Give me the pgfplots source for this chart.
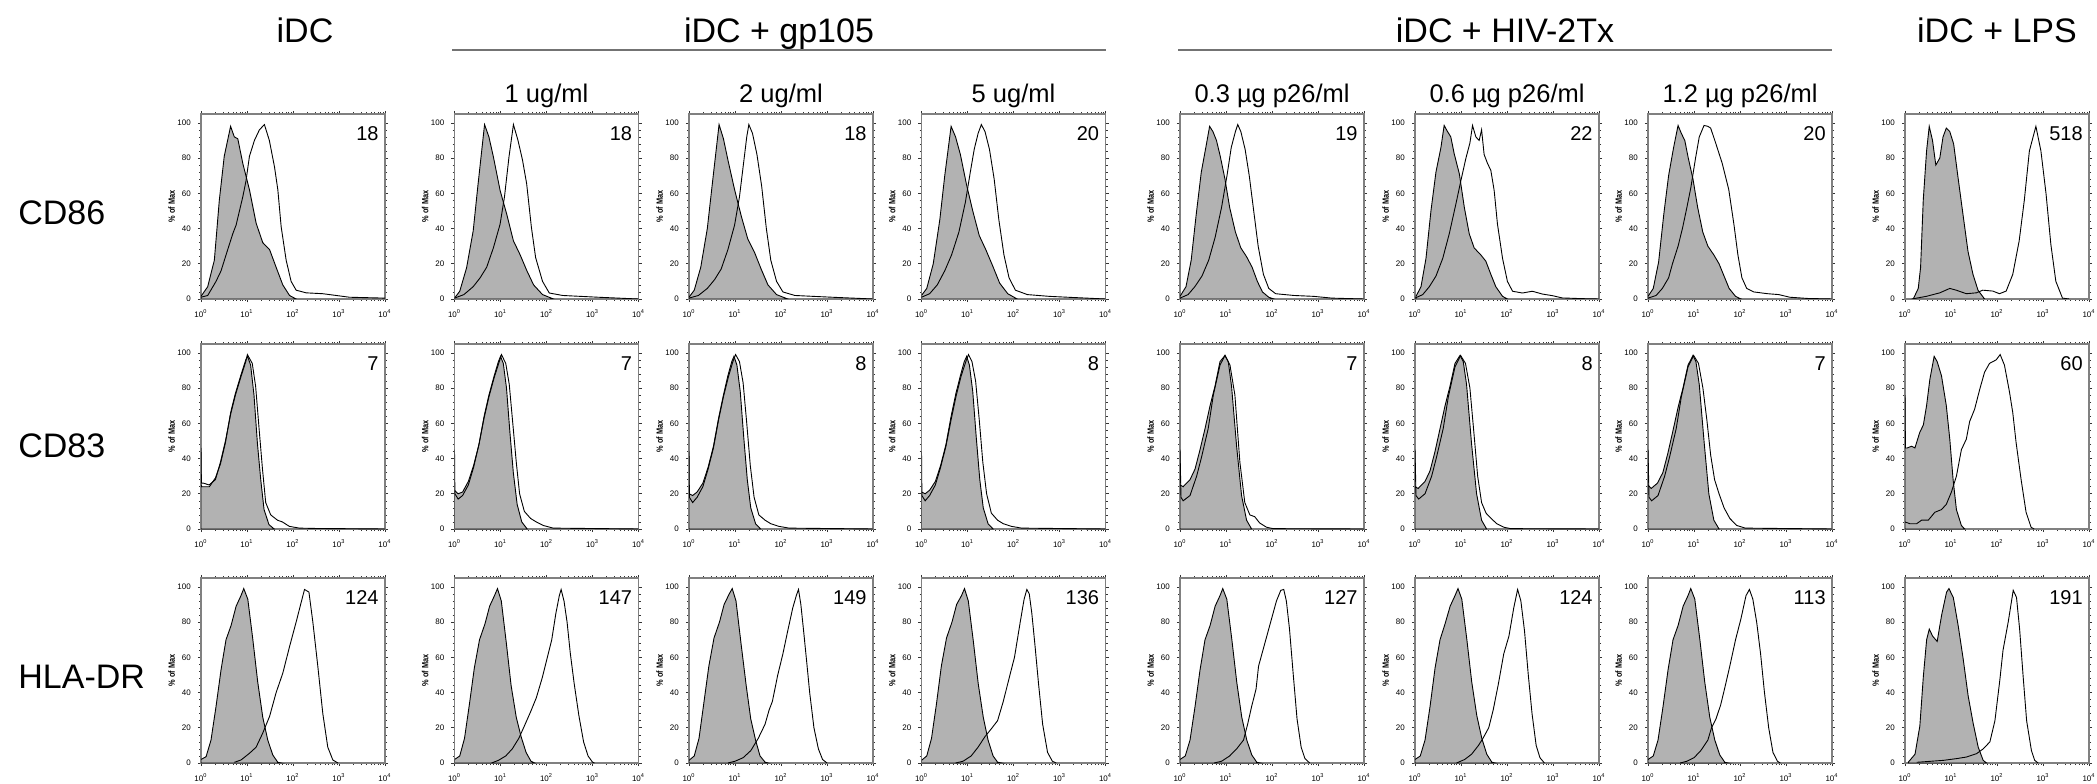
\documentclass[border=0pt]{standalone}
\usepackage{fontspec}
\setmainfont{Liberation Sans}
\newfontfamily\narrowsans[FakeStretch=0.82]{Liberation Sans}
\usepackage{pgfplots}
\pgfplotsset{compat=1.18}

% one px of the reference = 0.5pt
\newcommand{\panel}[4]{%
  \begin{axis}[
    at={(#1)}, anchor=south west,
    scale only axis, width=92pt, height=92.5pt,
    xmode=log, xmin=1, xmax=10000, ymin=0, ymax=105,
    xtick={1,10,100,1000,10000},
    xticklabels={10\textsuperscript{0},10\textsuperscript{1},10\textsuperscript{2},10\textsuperscript{3},10\textsuperscript{4}},
    minor xtick={2,3,4,5,6,7,8,9,20,30,40,50,60,70,80,90,200,300,400,500,600,700,800,900,2000,3000,4000,5000,6000,7000,8000,9000},
    ytick={0,20,40,60,80,100},
    yticklabels={0,20,40,60,80,100},
    minor y tick num=4,
    tick align=outside,
    major tick length=1.6pt, minor tick length=1pt,
    tick style={black!80, line width=0.3pt},
    axis line style={black!50, line width=0.8pt},
    tick label style={font=\fontsize{4}{5}\selectfont},
    ylabel={\% of Max},
    y label style={at={(axis description cs:-0.16,0.5)}, anchor=center,
                   font=\narrowsans\bfseries\fontsize{4.5}{5}\selectfont},
  ]
    \addplot[fill=black!30, draw=black, line width=0.45pt] coordinates {#2} \closedcycle;
    \addplot[draw=black, line width=0.45pt, fill=none] coordinates {#3};
    \node[anchor=north east, inner sep=0pt, xshift=-3pt, yshift=-6pt,
          font=\fontsize{10}{12}\selectfont] at (rel axis cs:1,1) {#4};
  \end{axis}}

\begin{document}
\begin{tikzpicture}
\useasboundingbox (0,0) rectangle (1048.5pt,391.5pt);

% titles
\begin{scope}[every node/.style={anchor=base, inner sep=0pt, font=\fontsize{17}{20}\selectfont}]
  \node at (152.5pt,370pt) {iDC};
  \node at (389.5pt,370pt) {iDC + gp105};
  \node at (752.5pt,370pt) {iDC + HIV-2Tx};
  \node at (998.5pt,370pt) {iDC + LPS};
\end{scope}
\draw[black!55, line width=0.7pt] (226pt,366.5pt) -- (553pt,366.5pt);
\draw[black!55, line width=0.7pt] (589pt,366.5pt) -- (916pt,366.5pt);
\begin{scope}[every node/.style={anchor=base, inner sep=0pt, font=\fontsize{12.75}{15}\selectfont}]
  \node at (273.25pt,340pt) {1 ug/ml};
  \node at (390.5pt,340pt) {2 ug/ml};
  \node at (506.75pt,340pt) {5 ug/ml};
  \node at (636pt,340pt) {0.3 µg p26/ml};
  \node at (753.5pt,340pt) {0.6 µg p26/ml};
  \node at (870pt,340pt) {1.2 µg p26/ml};
\end{scope}
\begin{scope}[every node/.style={anchor=base west, inner sep=0pt, font=\fontsize{17}{20}\selectfont}]
  \node at (9pt,279pt) {CD86};
  \node at (9pt,163pt) {CD83};
  \node at (9pt,47.5pt) {HLA-DR};
\end{scope}

% ---- row 1: CD86
\panel{100.5pt,242pt}
 {(1,1.5) (1.4,7) (1.95,22) (2.5,56) (3.2,81) (4.4,98) (5.3,92) (6.3,91) (8.1,77) (11.3,62) (15.8,43) (22,32) (31,28) (43,18) (60,8) (84,2) (117,0)}
 {(1,1) (1.4,2) (2.12,10) (2.73,16) (3.5,25) (4.9,37) (5.8,42) (8.1,58) (9.5,67) (11.3,81) (14.5,90) (18.6,96) (23.9,99) (30.6,90) (39.6,75) (46.8,62) (55.3,41) (71,22) (91,10) (117,5) (193,3.5) (445,3) (870,2) (1690,1) (10000,0.5)}
 {18}
\panel{227.25pt,242pt}
 {(1,0.5) (1.3,4.4) (1.83,17.7) (2.55,38.7) (3.2,63.5) (4.5,99) (5.6,92) (7,80.7) (9.8,61.6) (13.7,48) (19.1,33) (26.8,25) (37.5,16) (52.4,8) (82,2.5) (142,0)}
 {(1,0.5) (1.6,2.5) (2.55,7) (3.6,12) (5,18) (7,29) (9.8,42.5) (12.2,58) (15.3,80.7) (19.1,99) (24,90) (30,79) (37,65.5) (47,40.6) (58,23.5) (82,10) (115,3.4) (225,2) (545,1.5) (1330,1) (10000,0)}
 {18}
\panel{344.5pt,242pt}
 {(1,1) (1.3,5) (1.8,18) (2.5,40) (3.2,65) (4.5,99) (5.6,91) (7,79) (9.8,62) (13.7,47) (19,34) (27,26) (37,17) (52,8) (80,2.5) (140,0)}
 {(1,0.5) (1.6,2) (2.5,6) (3.6,11) (5,17) (7,28) (9.8,42) (12.5,58) (15.5,78) (18,92) (20,99) (24,94) (30,82) (38,64) (48,40) (60,22) (80,10) (110,4) (200,2) (500,1.5) (1300,1) (10000,0)}
 {18}
\panel{460.75pt,242pt}
 {(1,2) (1.3,6) (1.8,20) (2.5,45) (3.2,70) (4.4,98) (5.5,92) (7,82) (9.5,65) (13,50) (18,36) (25,28) (35,19) (50,9) (75,3) (120,0)}
 {(1,1) (1.5,3) (2.2,8) (3.2,16) (4.5,25) (6.5,38) (9,55) (11.5,72) (14,85) (17,94) (20,99) (24,95) (30,85) (38,68) (48,45) (62,25) (80,12) (110,5) (200,2.5) (600,1.5) (1500,1) (10000,0)}
 {20}
\panel{590pt,242pt}
 {(1,1.5) (1.35,7) (1.75,22) (2.25,48) (2.9,72) (3.7,87) (4.4,98) (5.2,95) (6.2,90) (7.5,81) (9.5,68) (12,52) (16,38) (21,29) (28,24) (37,18) (48,10) (62,4) (85,1) (110,0)}
 {(1,0.5) (1.5,2.5) (2.1,7) (3,13) (4.2,22) (5.8,35) (8,52) (10.5,70) (13,86) (16,95) (18,99) (21,95) (26,85) (32,70) (40,50) (50,30) (65,14) (85,6) (120,3) (300,2) (800,1.5) (2000,0.5) (10000,0)}
 {19}
\panel{707.5pt,242pt}
 {(1.05,1.5) (1.35,7) (1.73,23) (2.22,50) (2.85,72) (3.66,86) (4.3,98.5) (5.1,95) (6,92) (7.1,82.5) (9.2,71) (11.8,52) (15.1,37) (19.3,29) (27,25) (34.6,21.5) (44.5,14) (57,7) (80,1.5) (102,0)}
 {(1,0.5) (1.47,2.5) (2.05,7) (2.85,13) (4,23) (5.55,37) (7.75,54) (9.9,67) (12.8,80) (15.6,88.5) (17.8,98.5) (21,92) (24.8,90) (28,96) (31.8,82) (37.6,77) (44.5,73) (52.6,61.5) (62,42.5) (80,23) (102,10) (132,4.4) (216,3.4) (355,4.4) (590,2.8) (970,1.9) (1590,0.6) (4300,0.2) (10000,0)}
 {22}
\panel{824pt,242pt}
 {(1,1.5) (1.3,6) (1.7,21) (2.2,48) (2.8,70) (3.6,86) (4.5,98.5) (5.3,94) (6.3,90) (7.5,80) (9.5,68) (12,52) (15.5,38) (20,30) (27,25) (35,20) (45,13) (58,6) (80,1.5) (105,0)}
 {(1,0.5) (1.5,2) (2.05,6) (2.8,12) (3.4,20) (4.5,30) (5.6,40) (7,52) (8.5,63) (10.8,80) (13,92) (16.5,98.5) (20,98) (23,97) (30,88) (41,77) (57,62) (74,42) (90,25) (110,12) (140,6) (200,4) (400,3) (700,2.5) (1200,1) (3000,0.3) (10000,0)}
 {20}
\panel{952.5pt,242pt}
 {(1.51,0) (1.94,6) (2.18,18) (2.49,56) (2.94,84) (3.36,98) (3.96,90) (4.67,76) (5.7,80) (6.7,92) (7.9,97) (9.4,95) (11.4,88) (14.2,69) (18.2,48) (23.4,27) (30,14) (38.6,5) (53.6,0)}
 {(1.4,0) (2.9,1.5) (5.7,3.5) (9.4,6) (13,5) (21.5,3) (35.5,3.5) (49,5) (81,4.5) (113,3) (158,4.5) (220,14) (303,33) (392,56) (505,84) (700,98) (900,84) (1160,60) (1480,31) (1900,10) (2650,0.5) (3700,0)}
 {518}

% ---- row 2: CD83
\panel{100.5pt,127pt}
 {(1,25) (1.05,24) (1.52,24) (2.06,29) (2.65,37) (3.4,49) (4.4,66) (5.6,77) (7.3,87) (9.4,96) (10.3,98) (12,93) (14.2,76) (16.8,49) (19.9,28) (23.5,11) (30,2.5) (39,0)}
 {(1,46) (1.02,26) (1.14,26) (1.5,25) (2.06,28) (2.65,38) (3.4,50) (4.4,65) (5.6,76) (7.3,86) (9.4,95) (10.2,99) (13,94) (15.4,81) (18.3,57) (21.7,34) (25.5,15) (32.8,8) (46,5) (59,4) (83,1.5) (138,0.5) (318,0.3) (10000,0)}
 {7}
\panel{227.25pt,127pt}
 {(1,22) (1.2,20) (1.5,21) (2,27) (2.6,36) (3.4,48) (4.4,64) (5.6,76) (7.3,87) (9,95) (10,98) (11.5,94) (13.5,80) (16,55) (19,32) (23,14) (29,4) (38,0)}
 {(1,45) (1.02,20) (1.2,17) (1.5,19) (2,25) (2.6,35) (3.4,48) (4.4,63) (5.6,75) (7.3,86) (9.4,95) (10.5,99) (13,94) (15.5,82) (18.5,60) (22,38) (26,20) (33,10) (45,6) (60,4) (85,2) (140,0.5) (10000,0)}
 {7}
\panel{344.5pt,127pt}
 {(1,20) (1.2,19) (1.5,21) (2,26) (2.6,35) (3.4,47) (4.4,63) (5.6,76) (7,87) (8.5,95) (9.5,98) (11,93) (13,78) (15.5,52) (18.5,28) (22,12) (28,3) (36,0)}
 {(1,44) (1.02,18) (1.2,15) (1.5,18) (2,24) (2.6,34) (3.4,46) (4.4,62) (5.6,75) (7.3,87) (9,95) (10.3,99) (12.5,95) (15,83) (18,60) (21.5,36) (26,18) (33,8) (45,5) (60,3) (90,1.5) (150,0.5) (10000,0)}
 {8}
\panel{460.75pt,127pt}
 {(1,21) (1.2,20) (1.5,22) (2,27) (2.6,36) (3.4,48) (4.4,64) (5.6,77) (7,87) (8.5,95) (9.6,98) (11,93) (13,78) (15.5,52) (18.5,28) (22,12) (28,3) (36,0)}
 {(1,44) (1.02,19) (1.2,16) (1.5,19) (2,25) (2.6,35) (3.4,47) (4.4,62) (5.6,75) (7.3,87) (9.2,95) (10.5,99) (12.5,95) (15,84) (18,62) (21.5,38) (26,20) (33,9) (45,5) (60,3) (90,1.5) (150,0.5) (10000,0)}
 {8}
\panel{590pt,127pt}
 {(1,25) (1.17,24) (1.65,28) (2.12,34) (2.72,45) (3.5,57) (4.5,70) (5.75,81) (7.4,95) (9.5,98.5) (11.2,95) (13.2,81) (17,47) (21.8,19) (28,5) (36,0)}
 {(1,45) (1.05,18) (1.17,16) (1.65,19) (2.3,30) (2.95,41) (4.1,57) (5.3,76) (7.4,93) (9.5,98.5) (12.2,93) (15.6,76) (20,38) (25.6,15) (33,8) (42,7) (54,3.4) (76,1) (106,0.2) (10000,0)}
 {7}
\panel{707.5pt,127pt}
 {(1,24) (1.17,23) (1.65,27) (2.12,33) (2.72,44) (3.5,57) (4.5,70) (5.75,81) (7.4,94) (9.5,98.5) (11.2,95) (13.2,82) (17,48) (21.8,20) (28,5) (36,0)}
 {(1,45) (1.05,19) (1.2,17) (1.65,20) (2.3,30) (2.95,41) (4.1,57) (5.3,75) (7.4,92) (9.8,98.5) (12.5,94) (15.6,80) (19,55) (23,30) (28,15) (35,9) (45,6) (60,3) (85,1) (120,0.2) (10000,0)}
 {8}
\panel{824pt,127pt}
 {(1,25) (1.17,23) (1.6,26) (2.1,32) (2.7,43) (3.5,56) (4.5,69) (5.75,80) (7.4,93) (9.5,98.5) (11,95) (13,82) (16.5,50) (21,20) (27,5) (35,0)}
 {(1,45) (1.05,18) (1.2,16) (1.65,19) (2.3,30) (2.95,41) (4.1,57) (5.3,75) (7.4,92) (9.8,98.5) (12.5,94) (15.6,80) (19,62) (23,42) (28,28) (35,20) (45,12) (60,6) (85,2) (130,0.5) (10000,0)}
 {7}
\panel{952.5pt,127pt}
 {(1,76) (1.02,46) (1.12,46) (1.39,47) (1.64,46) (2.1,55) (2.5,59) (2.94,70) (3.47,85) (4.3,98) (5,95) (6.2,87) (7.9,70) (9.4,51) (11.1,28) (13.1,11) (16.8,2) (19.8,0)}
 {(1,4) (1.28,3) (1.79,3) (2.29,5) (3.2,5) (4.45,9.5) (6.2,11) (7.9,14) (10.2,21) (13.1,30) (16.8,45) (21.5,51) (25.4,61) (32.6,68) (41.8,79) (53.6,89) (68.7,94) (95.8,96) (117,99) (145,93) (186,78) (220,66) (260,49) (334,28) (428,9.5) (550,1) (640,0)}
 {60}

% ---- row 3: HLA-DR
\panel{100.5pt,10pt}
 {(1,2) (1.29,3.6) (1.65,13) (2.12,32) (2.73,53) (3.5,70) (4.5,78) (5.8,89) (7.4,95) (8.5,99) (10.4,93) (13.4,70) (17.1,46) (22,26) (28.3,13) (36.3,4.6) (46.7,0.4) (55,0)}
 {(5.3,0.4) (7.4,1.7) (11.3,5.5) (15.8,9) (22,17) (31,26.5) (43,40) (60,51) (84,66) (117,80) (150,91) (178,98.5) (222,97) (270,80) (346,55) (445,28) (570,9) (735,1.7) (950,0)}
 {124}
\panel{227.25pt,10pt}
 {(1,2) (1.3,4) (1.65,14) (2.1,33) (2.7,54) (3.5,70) (4.6,79) (5.8,89) (7.4,95) (8.6,99) (10.4,92) (13.4,68) (17,44) (22,26) (28,15) (36,6) (46,1) (55,0)}
 {(6.4,0) (9,1.5) (13,4) (18,8) (25,14) (33,21) (45,29) (60,37) (80,48) (100,58) (130,70) (160,85) (190,95) (208,98.5) (240,92) (280,80) (330,62) (400,45) (505,27) (640,12) (800,4) (1000,0.5) (1100,0)}
 {147}
\panel{344.5pt,10pt}
 {(1,1.5) (1.3,4) (1.65,14) (2.1,34) (2.7,55) (3.5,71) (4.6,80) (5.8,90) (7.5,96) (8.7,99) (10.5,92) (13.5,68) (17.5,44) (22,25) (28,13) (35,4) (45,0.5) (52,0)}
 {(7,0) (10,1) (15,3) (22,7) (32,14) (45,22) (55,30) (65,35) (85,50) (110,62) (140,75) (180,88) (215,95) (240,98.5) (270,90) (310,75) (360,58) (420,40) (520,20) (650,8) (800,2) (1000,0)}
 {149}
\panel{460.75pt,10pt}
 {(1,1.5) (1.3,4) (1.65,14) (2.1,33) (2.7,55) (3.5,71) (4.6,80) (5.8,90) (7.4,95) (8.6,99) (10.4,92) (13.4,69) (17.1,45) (22,26) (28,13) (36,4) (45,0.5) (55,0)}
 {(5.5,0) (8,1) (12,4) (17,9) (24,15) (32,19) (45,24) (60,35) (80,48) (105,60) (140,80) (170,93) (195,98.5) (220,96) (250,85) (290,68) (350,45) (430,22) (550,6) (700,1) (850,0)}
 {136}
\panel{590pt,10pt}
 {(1,2) (1.3,4) (1.65,13) (2.12,32) (2.73,53) (3.5,70) (4.5,78) (5.8,89) (7.4,95) (8.5,99) (10.4,93) (13.4,70) (17.1,46) (22,26) (28.3,13) (36.3,4.6) (46.7,0.4) (55,0)}
 {(5.5,0) (8,1) (12,4) (17,8) (24,13) (29.5,22) (36,32) (45,42) (51,55) (65,65) (89,78) (125,92) (155,98) (180,98.5) (205,92) (240,76) (290,50) (350,25) (430,9) (520,2.5) (660,0)}
 {127}
\panel{707.5pt,10pt}
 {(1,2) (1.3,4) (1.65,13) (2.12,32) (2.73,54) (3.5,70) (4.5,79) (5.8,89) (7.4,95) (8.6,99) (10.4,93) (13.4,70) (17.1,46) (22,27) (28.3,14) (36.3,5) (46.7,0.5) (55,0)}
 {(8,0) (12,2) (17,5) (24,10) (30,14) (40,20) (50,30) (65,45) (85,62) (110,72) (140,88) (170,98.5) (200,92) (240,75) (290,50) (350,28) (430,10) (520,3) (650,0)}
 {124}
\panel{824pt,10pt}
 {(1,2) (1.3,4) (1.65,13) (2.12,32) (2.73,53) (3.5,70) (4.5,78) (5.8,89) (7.4,95) (8.5,99) (10.4,93) (13.4,70) (17.1,46) (22,26) (28.3,13) (36.3,4.6) (46.7,0.4) (55,0)}
 {(5,0) (7,1) (10,3) (14,7) (20,13) (24,20) (30,25) (38,33) (46,42) (60,55) (80,70) (105,82) (135,95) (160,98.5) (190,93) (230,80) (280,62) (340,40) (420,20) (520,6) (650,1) (750,0)}
 {113}
\panel{952.5pt,10pt}
 {(1.18,0.5) (1.65,5) (2.1,21) (2.5,49) (2.95,70) (3.37,76) (3.98,72) (5,69) (6.25,84) (8,97) (9,99) (11.2,94) (14.3,78) (18.4,59) (23.6,38) (30.3,22.5) (39,9) (50,1.5) (59,0)}
 {(1.8,0.4) (6.8,1.5) (13.2,2.5) (21.7,3.4) (35.8,5.3) (50,8) (70,12) (90,24) (115,47) (135,64) (175,80) (225,98) (265,94) (310,76) (370,49) (440,24) (560,7) (660,1.5) (780,0)}
 {191}
\end{tikzpicture}
\end{document}
